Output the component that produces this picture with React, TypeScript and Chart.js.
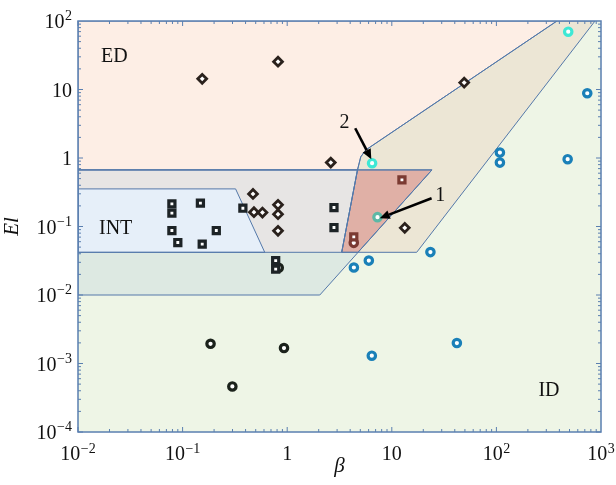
import React, { useEffect, useRef } from "react";
import { Chart, registerables } from "chart.js";

Chart.register(...registerables);

const FONT = "'Liberation Serif', 'Times New Roman', serif";

// ---------- axis ticks ("base^exponent") ----------
const xTickValues = [0.01, 0.1, 1, 10, 100, 1000];
const xTickLabels = ["10^\u22122", "10^\u22121", "1", "10", "10^2", "10^3"];
const yTickValues = [1e-4, 1e-3, 1e-2, 0.1, 1, 10, 100];
const yTickLabels = ["10^\u22124", "10^\u22123", "10^\u22122", "10^\u22121", "1", "10", "10^2"];

// ---------- data series (beta, El) ----------
const squareBeta = [0.079, 0.079, 0.148, 0.079, 0.09, 0.21, 0.154, 0.377, 2.8, 2.8, 0.776, 0.776];
const squareEl = [0.214, 0.157, 0.219, 0.0873, 0.0583, 0.0873, 0.0553, 0.185, 0.189, 0.0966, 0.0318, 0.0239];

const diamondBeta = [0.154, 0.817, 0.471, 0.481, 0.58, 0.817, 0.817, 0.817, 2.61, 49.2, 13.3];
const diamondEl = [14.3, 25.5, 0.299, 0.162, 0.16, 0.207, 0.151, 0.0865, 0.857, 12.6, 0.0955];

const brownSquareBeta = [4.33, 12.5];
const brownSquareEl = [0.0706, 0.479];
const brownCircleBeta = [4.33];
const brownCircleEl = [0.0577];

const blueBeta = [108, 108, 480, 739, 4.34, 6.03, 23.4, 6.44, 41.9];
const blueEl = [1.2, 0.857, 0.961, 8.81, 0.0252, 0.0318, 0.0423, 0.0013, 0.00199];

const cyanBeta = [486, 6.48];
const cyanEl = [69.8, 0.839];
const tealBeta = [7.3];
const tealEl = [0.137];

const darkBeta = [0.185, 0.932, 0.299, 0.83];
const darkEl = [0.00194, 0.00168, 0.000462, 0.025];

// ---------- regime regions (polygons, beta / El) ----------
const edBeta = [0.01, 379, 5.64, 5.05, 4.7, 0.01];
const edEl = [100, 100, 1.31, 1.04, 0.67, 0.67];
const intBigBeta = [0.01, 24.2, 2.05, 0.01];
const intBigEl = [0.67, 0.67, 0.01, 0.01];
const grayBeta = [0.01, 4.7, 3.32, 0.01];
const grayEl = [0.67, 0.67, 0.042, 0.042];
const oliveBeta = [5.64, 379, 877, 17.3, 3.32, 4.7, 5.05];
const oliveEl = [1.31, 100, 100, 0.042, 0.042, 0.67, 1.04];
const redBeta = [4.7, 24.2, 4.75, 3.32];
const redEl = [0.67, 0.67, 0.042, 0.042];
const blueRegBeta = [0.01, 0.321, 0.61, 0.01];
const blueRegEl = [0.354, 0.354, 0.042, 0.042];

const regions = [
  { beta: edBeta, el: edEl, color: "#fdeee5" },
  { beta: intBigBeta, el: intBigEl, color: "#dde9e2" },
  { beta: grayBeta, el: grayEl, color: "#e7e5e4" },
  { beta: oliveBeta, el: oliveEl, color: "#ece6d5" },
  { beta: redBeta, el: redEl, color: "#e0b0a6" },
  { beta: blueRegBeta, el: blueRegEl, color: "#e6eff9" },
];

// ---------- annotations ----------
const regionLabels = ["ED", "INT", "ID"];
const regionLabelBeta = [0.0223, 0.0229, 318];
const regionLabelEl = [29.8, 0.0925, 0.000401];

const arrowLabels = ["1", "2"];
const arrowLabelBeta = [29.1, 3.53];
const arrowLabelEl = [0.28, 3.22];
const arrowFromBeta = [24.0, 4.47];
const arrowFromEl = [0.259, 2.72];
const arrowToBeta = [7.67, 6.37];
const arrowToEl = [0.132, 0.96];

const pts = (bs: number[], es: number[]) => bs.map((b, i) => ({ x: b, y: es[i] }));

const BASE_FONT = `20px ${FONT}`;
const EXP_FONT = `14px ${FONT}`;

function drawPowLabel(ctx: any, label: string, x: number, baseY: number, align: "center" | "right", expRaise: number) {
  const [base, exp] = label.split("^");
  ctx.font = BASE_FONT;
  const wb = ctx.measureText(base).width;
  let we = 0;
  if (exp) {
    ctx.font = EXP_FONT;
    we = ctx.measureText(exp).width + 0.5;
  }
  const total = wb + we;
  const start = align === "center" ? x - total / 2 : x - total;
  ctx.textAlign = "left";
  ctx.textBaseline = "alphabetic";
  ctx.font = BASE_FONT;
  ctx.fillText(base, start, baseY);
  if (exp) {
    ctx.font = EXP_FONT;
    ctx.fillText(exp, start + wb + 0.5, baseY - expRaise);
  }
}

const regionPlugin = {
  id: "regions",
  beforeDatasetsDraw(chart: any) {
    const { ctx, chartArea: a, scales } = chart;
    const X = (v: number) => scales.x.getPixelForValue(v);
    const Y = (v: number) => scales.y.getPixelForValue(v);
    ctx.save();
    ctx.beginPath();
    ctx.rect(a.left, a.top, a.right - a.left, a.bottom - a.top);
    ctx.clip();
    ctx.fillStyle = "#eef5e6";
    ctx.fillRect(a.left, a.top, a.right - a.left, a.bottom - a.top);
    const path = (r: any) => {
      ctx.beginPath();
      r.beta.forEach((b: number, i: number) => {
        const px = X(b), py = Y(r.el[i]);
        if (i === 0) ctx.moveTo(px, py); else ctx.lineTo(px, py);
      });
      ctx.closePath();
    };
    regions.forEach((r) => { path(r); ctx.fillStyle = r.color; ctx.fill(); });
    ctx.strokeStyle = "#5479aa";
    ctx.lineWidth = 1;
    regions.forEach((r) => { path(r); ctx.stroke(); });
    ctx.restore();
  },
  afterDatasetsDraw(chart: any) {
    const { ctx, chartArea: a, scales } = chart;
    const X = (v: number) => scales.x.getPixelForValue(v);
    const Y = (v: number) => scales.y.getPixelForValue(v);
    ctx.save();
    // frame
    ctx.strokeStyle = "#5a7fb0";
    ctx.lineWidth = 1.5;
    ctx.strokeRect(a.left, a.top, a.right - a.left, a.bottom - a.top);
    // inward ticks on all four sides
    ctx.lineWidth = 1;
    ctx.beginPath();
    for (let d = -2; d <= 2; d++) {
      for (let m = 1; m <= 9; m++) {
        const v = m * Math.pow(10, d);
        const px = X(v);
        const len = m === 1 ? 5 : 3;
        ctx.moveTo(px, a.bottom); ctx.lineTo(px, a.bottom - len);
        ctx.moveTo(px, a.top); ctx.lineTo(px, a.top + len);
      }
    }
    for (let d = -4; d <= 1; d++) {
      for (let m = 1; m <= 9; m++) {
        const v = m * Math.pow(10, d);
        const py = Y(v);
        const len = m === 1 ? 5 : 3;
        ctx.moveTo(a.left, py); ctx.lineTo(a.left + len, py);
        ctx.moveTo(a.right, py); ctx.lineTo(a.right - len, py);
      }
    }
    ctx.stroke();
    // tick labels
    ctx.fillStyle = "#111";
    xTickValues.forEach((v, i) => drawPowLabel(ctx, xTickLabels[i], X(v), a.bottom + 28, "center", 7));
    yTickValues.forEach((v, i) => drawPowLabel(ctx, yTickLabels[i], a.left - 6, Y(v) + 7, "right", 8));
    // region labels
    ctx.font = `20px ${FONT}`;
    ctx.textAlign = "center";
    ctx.textBaseline = "middle";
    regionLabels.forEach((t, i) => ctx.fillText(t, X(regionLabelBeta[i]), Y(regionLabelEl[i])));
    arrowLabels.forEach((t, i) => ctx.fillText(t, X(arrowLabelBeta[i]), Y(arrowLabelEl[i])));
    // arrows
    ctx.strokeStyle = "#000";
    ctx.fillStyle = "#000";
    arrowFromBeta.forEach((b, i) => {
      const x0 = X(b), y0 = Y(arrowFromEl[i]);
      const x1 = X(arrowToBeta[i]), y1 = Y(arrowToEl[i]);
      const ang = Math.atan2(y1 - y0, x1 - x0);
      const hl = 10, hw = 4.5;
      const bx = x1 - hl * Math.cos(ang), by = y1 - hl * Math.sin(ang);
      ctx.lineWidth = 2.6;
      ctx.beginPath();
      ctx.moveTo(x0, y0);
      ctx.lineTo(bx, by);
      ctx.stroke();
      ctx.beginPath();
      ctx.moveTo(x1, y1);
      ctx.lineTo(bx - hw * Math.sin(ang), by + hw * Math.cos(ang));
      ctx.lineTo(bx + hw * Math.sin(ang), by - hw * Math.cos(ang));
      ctx.closePath();
      ctx.fill();
    });
    ctx.restore();
  },
};

export default function App() {
  const ref = useRef<HTMLCanvasElement>(null);
  useEffect(() => {
    if (!ref.current) return;
    const ring = (bs: number[], es: number[], color: string) => ({
      data: pts(bs, es),
      pointStyle: "circle",
      pointRadius: 3.7,
      pointBorderWidth: 3.2,
      pointBorderColor: color,
      pointBackgroundColor: "#ffffff",
    });
    const chart = new Chart(ref.current, {
      type: "scatter",
      data: {
        datasets: [
          {
            data: pts(squareBeta, squareEl),
            pointStyle: "rect",
            pointRadius: 4.3,
            pointBorderWidth: 3.2,
            pointBorderColor: "#1d2326",
            pointBackgroundColor: "#ffffff",
          },
          {
            data: pts(diamondBeta, diamondEl),
            pointStyle: "rectRot",
            pointRadius: 4.4,
            pointBorderWidth: 2.8,
            pointBorderColor: "#2a211c",
            pointBackgroundColor: "#ffffff",
          },
          {
            data: pts(brownSquareBeta, brownSquareEl),
            pointStyle: "rect",
            pointRadius: 4.3,
            pointBorderWidth: 3.2,
            pointBorderColor: "#7b3a32",
            pointBackgroundColor: "#ffffff",
          },
          ring(brownCircleBeta, brownCircleEl, "#7b3a32"),
          ring(blueBeta, blueEl, "#1a80b8"),
          ring(cyanBeta, cyanEl, "#3de8d5"),
          ring(tealBeta, tealEl, "#5db8a6"),
          ring(darkBeta, darkEl, "#1b221b"),
        ] as any,
      },
      options: {
        animation: false,
        responsive: false,
        layout: { padding: { top: 21, right: 15, left: 0, bottom: 0 } },
        plugins: { legend: { display: false }, tooltip: { enabled: false } },
        scales: {
          x: {
            type: "logarithmic",
            min: 0.01,
            max: 1000,
            grid: { display: false },
            border: { display: false },
            ticks: { display: false },
            title: {
              display: true,
              text: "\u03B2",
              color: "#111",
              font: { family: FONT, size: 21, style: "italic" },
              padding: { top: 0, bottom: 6 },
            },
            afterFit: (s: any) => {
              s.height = 53;
              s.paddingLeft = 0;
              s.paddingRight = 0;
            },
          },
          y: {
            type: "logarithmic",
            min: 1e-4,
            max: 100,
            grid: { display: false },
            border: { display: false },
            ticks: { display: false },
            title: {
              display: true,
              text: "El",
              color: "#111",
              font: { family: FONT, size: 21, style: "italic" },
              padding: { top: 0, bottom: 0 },
            },
            afterFit: (s: any) => {
              s.width = 78;
              s.paddingTop = 0;
              s.paddingBottom = 0;
            },
          },
        },
      },
      plugins: [regionPlugin],
    } as any);
    return () => chart.destroy();
  }, []);
  return (
    <div style={{ position: "fixed", left: 0, top: 0, width: 616, height: 485, background: "#fff" }}>
      <canvas ref={ref} width={616} height={485} style={{ display: "block" }} />
    </div>
  );
}
